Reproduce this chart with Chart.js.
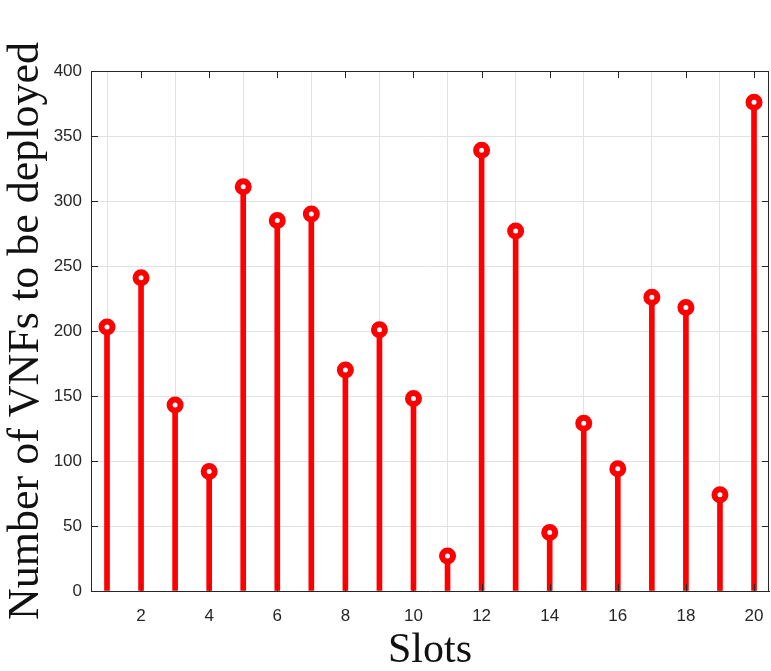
<!DOCTYPE html>
<html>
<head>
<meta charset="utf-8">
<script src="https://cdn.jsdelivr.net/npm/chart.js@4"></script>
<style>
  html, body { margin: 0; padding: 0; background: #fff; }
  #wrap { width: 771px; height: 671px; }
</style>
</head>
<body>
<div id="wrap"><canvas id="stemChart"></canvas></div>
<script>
// data
const slots = [1, 2, 3, 4, 5, 6, 7, 8, 9, 10, 11, 12, 13, 14, 15, 16, 17, 18, 19, 20];
const vnfs = [203, 241, 143, 92, 311, 285, 290, 170, 201, 148, 27, 339, 277, 45, 129, 94, 226, 218, 74, 376];
const xTicks = [2, 4, 6, 8, 10, 12, 14, 16, 18, 20];
const yTicks = [0, 50, 100, 150, 200, 250, 300, 350, 400];

const points = slots.map((s, i) => ({ x: s, y: vnfs[i] }));
const red = '#ff0000';
const axisColor = '#262626';

// MATLAB style box: top/right lines and inward ticks on all sides
const boxPlugin = {
  id: 'box',
  afterDraw(chart) {
    const ctx = chart.ctx;
    const a = chart.chartArea;
    const xs = chart.scales.x;
    const ys = chart.scales.y;
    const len = 7;
    ctx.save();
    ctx.strokeStyle = axisColor;
    ctx.lineWidth = 1;
    ctx.beginPath();
    ctx.moveTo(a.left, a.top + 0.5);
    ctx.lineTo(a.right, a.top + 0.5);
    ctx.moveTo(a.right - 0.5, a.top);
    ctx.lineTo(a.right - 0.5, a.bottom);
    xTicks.forEach(v => {
      const px = Math.round(xs.getPixelForValue(v)) + 0.5;
      ctx.moveTo(px, a.bottom);
      ctx.lineTo(px, a.bottom - len);
      ctx.moveTo(px, a.top);
      ctx.lineTo(px, a.top + len);
    });
    yTicks.forEach(v => {
      const py = Math.round(ys.getPixelForValue(v)) + 0.5;
      ctx.moveTo(a.left, py);
      ctx.lineTo(a.left + len, py);
      ctx.moveTo(a.right, py);
      ctx.lineTo(a.right - len, py);
    });
    ctx.stroke();
    ctx.restore();
  }
};

const chartConfig = {
  type: 'bar',
  data: {
    datasets: [
      {
        type: 'scatter',
        label: 'markers',
        data: points,
        pointStyle: 'circle',
        pointRadius: 5.5,
        borderWidth: 6,
        borderColor: red,
        backgroundColor: '#fff',
        order: 0
      },
      {
        type: 'bar',
        label: 'stems',
        data: points,
        backgroundColor: red,
        barThickness: 5,
        order: 1
      }
    ]
  },
  options: {
    responsive: true,
    maintainAspectRatio: false,
    animation: false,
    layout: {
      autoPadding: false,
      padding: { top: 71, right: 2, left: 0, bottom: 0 }
    },
    scales: {
      x: {
        type: 'linear',
        min: 0.53,
        max: 20.44,
        offset: false,
        afterFit: (scale) => {
          scale.height = 80;
          scale.paddingLeft = 0;
          scale.paddingRight = 0;
        },
        ticks: {
          stepSize: 2,
          includeBounds: false,
          color: axisColor,
          padding: 15,
          font: { family: 'Liberation Sans', size: 17 },
          maxRotation: 0
        },
        grid: {
          color: '#e2e2e2',
          drawTicks: false
        },
        border: { color: axisColor, width: 1 },
        title: {
          display: true,
          text: 'Slots',
          color: '#111',
          font: { family: 'Liberation Serif', size: 42, lineHeight: 0.95 },
          padding: { top: 8, bottom: 0 }
        }
      },
      y: {
        min: 0,
        max: 400,
        afterFit: (scale) => {
          scale.width = 91;
          scale.paddingTop = 0;
          scale.paddingBottom = 0;
        },
        ticks: {
          stepSize: 50,
          color: axisColor,
          padding: 9,
          font: { family: 'Liberation Sans', size: 17 }
        },
        grid: {
          color: '#e2e2e2',
          drawTicks: false
        },
        border: { color: axisColor, width: 1 },
        title: {
          display: true,
          text: 'Number of VNFs to be deployed',
          color: '#111',
          font: { family: 'Liberation Serif', size: 44 },
          padding: { top: 0, bottom: 0 }
        }
      }
    },
    plugins: {
      legend: { display: false },
      tooltip: { enabled: false }
    }
  },
  plugins: [boxPlugin]
};

new Chart(document.getElementById('stemChart').getContext('2d'), chartConfig);
</script>
</body>
</html>
